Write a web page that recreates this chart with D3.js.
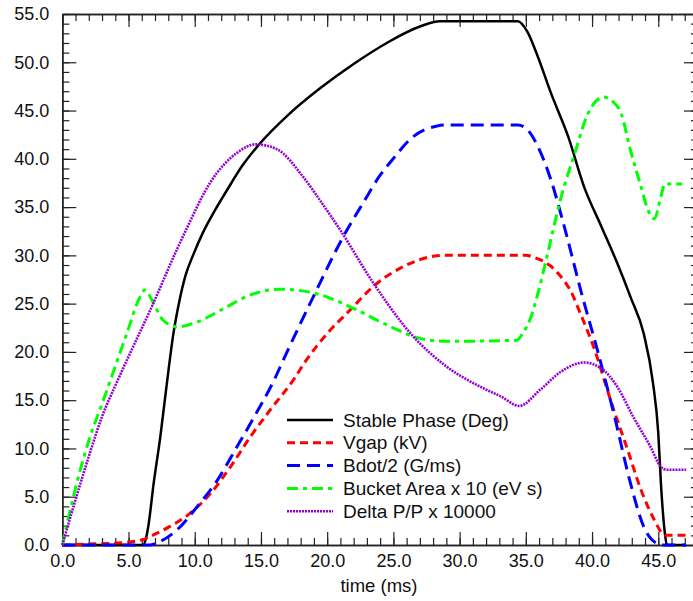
<!DOCTYPE html>
<html>
<head>
<meta charset="utf-8">
<script src="https://cdn.jsdelivr.net/npm/d3@7"></script>
<style>
  body { margin: 0; background: #fff; }
  text { font-family: "Liberation Sans", Arial, sans-serif; fill: #111; }
</style>
</head>
<body>
<div id="chart"></div>
<script>
// [time (ms), value]
const stablePhase = [[0, 0], [6.1, 0], [6.3, 0.6], [6.5, 2.0], [6.9, 6.4], [7.4, 11.2], [7.9, 16.8], [8.4, 22.0],
  [8.8, 25.0], [9.3, 27.9], [9.9, 30.1], [10.6, 32.3], [11.5, 34.6], [12.5, 36.9], [13.6, 39.3], [14.93, 41.6],
  [16.94, 44.4], [19.46, 47.3], [21.97, 49.8], [24.5, 52.0], [27.0, 53.7], [28.5, 54.25], [34.4, 54.25],
  [35.1, 53.2], [35.9, 50.6], [36.9, 46.8], [38.2, 42.3], [39.4, 37.1], [40.7, 33.0], [41.9, 29.2], [42.9, 25.7],
  [43.9, 21.9], [44.6, 16.8], [45.0, 11.6], [45.2, 6.4], [45.5, 1.2], [45.65, 0], [47.1, 0]];

const vgap = [[0, 0], [2, 0.1], [4.1, 0.2], [6.1, 0.55], [6.6, 0.86], [8.1, 1.9], [9.66, 3.3], [11.2, 5.35],
  [12.7, 8.1], [14.2, 11.2], [15.7, 14.0], [17.45, 17.1], [18.45, 19.2], [20.0, 21.9], [21.7, 24.3], [23.5, 26.8],
  [26.0, 29.0], [28.0, 29.9], [29.0, 30.0], [35.0, 30.0], [35.6, 29.8], [37.4, 28.2], [38.6, 25.7], [38.9, 24.7],
  [40.2, 20.2], [41.4, 15.0], [42.7, 9.8], [43.7, 5.7], [44.7, 2.6], [45.3, 1.2], [45.6, 1.0], [47.1, 1.0]];

const bdot = [[0, 0], [6.6, 0], [7.1, 0.2], [8.65, 1.55], [10.2, 4.0], [11.7, 6.7], [13.2, 10.2], [14.5, 13.3],
  [16.0, 17.1], [16.7, 19.2], [18.95, 25.7], [21.2, 31.9], [22.7, 35.4], [24.0, 38.3], [24.8, 39.7], [26.5, 42.3],
  [28.3, 43.4], [29.0, 43.5], [34.4, 43.5], [35.2, 42.9], [35.9, 41.3], [36.9, 37.8], [37.9, 33.0], [39.2, 26.1],
  [40.4, 20.2], [41.7, 13.3], [42.9, 6.4], [43.9, 1.9], [45.0, 0.1], [45.3, 0], [47.1, 0]];

const bucketArea = [[0, 0], [1.09, 6.4], [2, 10.8], [3.1, 15.0], [4.87, 21.9], [5.87, 25.7], [6.25, 26.4],
  [6.9, 25.0], [7.6, 23.3], [8.65, 22.6], [10.2, 23.1], [12.2, 24.5], [14.2, 25.9], [16.4, 26.5], [19.0, 26.1],
  [21.7, 24.7], [24.5, 22.8], [27.0, 21.4], [29.0, 21.1], [34.3, 21.2], [34.8, 22.0], [35.3, 23.3], [35.9, 26.0],
  [36.6, 29.9], [37.6, 35.7], [38.7, 40.6], [39.7, 44.7], [40.9, 46.4], [41.5, 46.0], [42.2, 44.7], [42.9, 40.9],
  [43.7, 37.1], [44.2, 34.8], [44.7, 33.8], [45.2, 36.1], [45.5, 37.4], [46.8, 37.4]];

const deltaP = [[0, 0], [1, 4.7], [2.1, 9.6], [3, 13.3], [4.1, 16.8], [5.3, 20.4], [6.63, 24.3], [8.65, 30.6],
  [9.4, 32.8], [11.15, 37.5], [13.17, 40.6], [14.6, 41.5], [16.2, 41.0], [18.2, 38.1], [19.46, 35.7], [21.0, 32.6],
  [23.5, 27.1], [26.5, 21.6], [29.0, 18.5], [32.0, 16.1], [33.1, 15.4], [34.5, 14.4], [36.1, 16.1], [37.6, 17.9],
  [39.4, 18.9], [40.7, 18.3], [41.9, 16.4], [43.1, 13.3], [44.4, 10.2], [45.2, 8.1], [45.6, 7.8], [47.1, 7.8]];

const seriesNames = ["Stable Phase (Deg)", "Vgap (kV)", "Bdot/2 (G/ms)", "Bucket Area x 10 (eV s)", "Delta P/P x 10000"];
const seriesData = [stablePhase, vgap, bdot, bucketArea, deltaP];
const seriesColors = ["#000000", "#ff0000", "#0000ff", "#00ff00", "#9400d3"];
const seriesDash = [null, "8,5", "13,7", "11,5,4,5", "2,1"];
const seriesWidth = [2.5, 3, 3, 3, 2.6];

const xMajor = d3.range(0, 46, 5);
const yMajor = d3.range(0, 56, 5);

const w = 693, h = 601;
const x = d3.scaleLinear().domain([0, 48]).range([62.3, 698]);
const y = d3.scaleLinear().domain([0, 55]).range([545, 14]);

const svg = d3.select("#chart").append("svg")
  .attr("width", w)
  .attr("height", h);

const fmt = d3.format(".1f");

// minor ticks (every 1 unit) on all four sides
const minorX = d3.range(0, 49, 1);
const minorY = d3.range(0, 56, 1);
const addAxis = (gen, tr) => {
  const g = svg.append("g").attr("transform", tr).call(gen);
  g.select(".domain").attr("stroke", "#222").attr("stroke-width", 1.5);
  g.selectAll(".tick line").attr("stroke", "#222").attr("stroke-width", 1.2);
  g.selectAll(".tick text").style("font-size", "18px").attr("fill", "#111");
  return g;
};

addAxis(d3.axisBottom(x).tickValues(minorX).tickSizeInner(-7).tickSizeOuter(0).tickFormat(""), `translate(0,${y(0)})`);
addAxis(d3.axisTop(x).tickValues(minorX).tickSizeInner(-7).tickSizeOuter(0).tickFormat(""), `translate(0,${y(55)})`);
addAxis(d3.axisLeft(y).tickValues(minorY).tickSizeInner(-7).tickSizeOuter(0).tickFormat(""), `translate(${x(0)},0)`);
addAxis(d3.axisRight(y).tickValues(minorY).tickSizeInner(-7).tickSizeOuter(0).tickFormat(""), `translate(${x(48)},0)`);

addAxis(d3.axisBottom(x).tickValues(xMajor).tickSizeInner(-13).tickSizeOuter(0).tickPadding(9).tickFormat(fmt), `translate(0,${y(0)})`);
addAxis(d3.axisTop(x).tickValues(xMajor).tickSizeInner(-13).tickSizeOuter(0).tickFormat(""), `translate(0,${y(55)})`);
addAxis(d3.axisLeft(y).tickValues(yMajor).tickSizeInner(-14).tickSizeOuter(0).tickPadding(13).tickFormat(fmt), `translate(${x(0)},0)`);
addAxis(d3.axisRight(y).tickValues(yMajor).tickSizeInner(-14).tickSizeOuter(0).tickFormat(""), `translate(${x(48)},0)`);

svg.append("text")
  .attr("x", 379)
  .attr("y", 592)
  .attr("text-anchor", "middle")
  .style("font-size", "18.5px")
  .text("time (ms)");

const line = d3.line()
  .x(d => x(d[0]))
  .y(d => y(d[1]))
  .curve(d3.curveMonotoneX);

seriesData.forEach((data, i) => {
  svg.append("path")
    .datum(data)
    .attr("d", line)
    .attr("fill", "none")
    .attr("stroke", seriesColors[i])
    .attr("stroke-width", seriesWidth[i])
    .attr("stroke-dasharray", seriesDash[i])
    .attr("stroke-linejoin", "round");
});

// legend
const legend = svg.append("g").attr("transform", "translate(287,420)");
const item = legend.selectAll("g")
  .data(seriesNames)
  .enter()
  .append("g")
  .attr("transform", (d, i) => `translate(0,${i * 22.8})`);

item.append("line")
  .attr("x1", 0).attr("x2", 46)
  .attr("y1", 0).attr("y2", 0)
  .attr("stroke", (d, i) => seriesColors[i])
  .attr("stroke-width", (d, i) => seriesWidth[i])
  .attr("stroke-dasharray", (d, i) => seriesDash[i]);

item.append("text")
  .attr("x", 56)
  .attr("y", 0)
  .attr("dy", "0.35em")
  .style("font-size", "19px")
  .text(d => d);
</script>
</body>
</html>
